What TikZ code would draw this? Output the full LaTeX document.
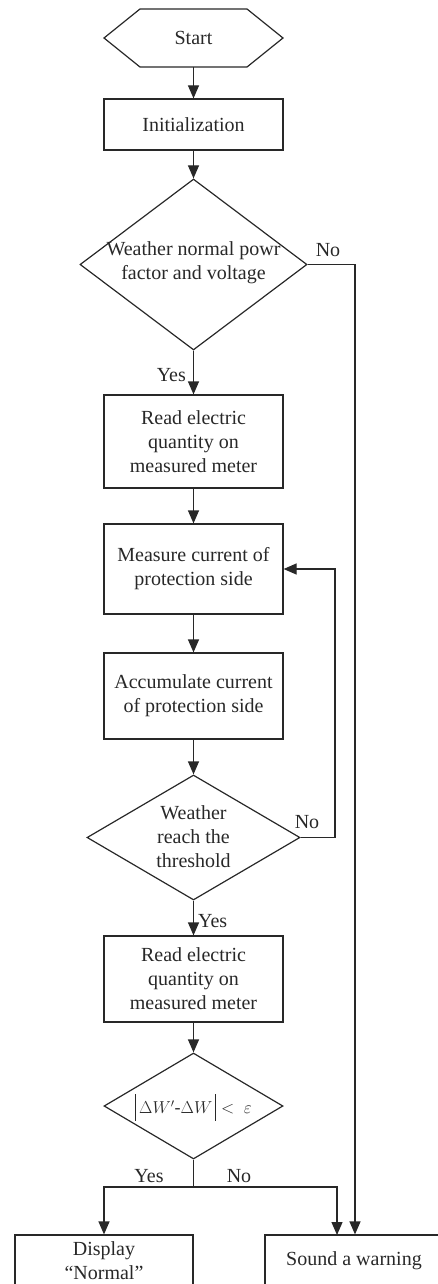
\documentclass[tikz,border=0pt]{standalone}
\usepackage{fontspec}
\setmainfont{Liberation Serif}
\usetikzlibrary{arrows.meta,shapes.geometric,calc}
\definecolor{ink}{RGB}{40,40,40}
\begin{document}
\begin{tikzpicture}[x=1pt,y=-1pt,
  every node/.style={text=ink},
  txt/.style={font=\fontsize{20}{24}\selectfont, align=center, inner sep=0pt},
  box/.style={txt, draw=ink, line width=1.2pt, minimum width=179pt},
  dia/.style={diamond, draw=ink, line width=1.2pt, inner sep=0pt},
  arr/.style={draw=ink, line width=1.2pt, -{Triangle[length=13pt,width=11pt]}},
  ln/.style={draw=ink, line width=1.2pt}]
\useasboundingbox (0,0) rectangle (438,1284);
\clip (0,0) rectangle (438,1284);
% nodes
\node[txt, minimum width=179pt, minimum height=58pt, outer sep=0pt] (start) at (193.5,38) {Start};
\draw[ln] (start.west) -- ($(start.north west)+(36,0)$) -- ($(start.north east)+(-36,0)$) -- (start.east) -- ($(start.south east)+(-36,0)$) -- ($(start.south west)+(36,0)$) -- cycle;
\node[box, minimum height=51pt] (init) at (193.5,124.5) {Initialization};
\node[dia, minimum width=227pt, minimum height=171pt] (d1) at (193.5,264.5) {};
\node[txt] (d1t) at (193.5,263) {Weather normal powr\\factor and voltage};
\node[box, minimum height=93pt] (read1) at (193.5,441.5) {Read electric\\quantity on\\measured meter};
\node[box, minimum height=90pt] (meas) at (193.5,569) {Measure current of\\protection side};
\node[box, minimum height=86pt] (accum) at (193.5,696) {Accumulate current\\of protection side};
\node[dia, minimum width=213pt, minimum height=125pt] (d2) at (193.5,837.5) {};
\node[txt] (d2t) at (193.5,837) {Weather\\reach the\\threshold};
\node[box, minimum height=86pt] (read2) at (193.5,979) {Read electric\\quantity on\\measured meter};
\node[dia, minimum width=179pt, minimum height=106pt] (d3) at (193.5,1106) {};
\node[inner sep=0pt, font=\fontsize{18}{22}\selectfont] (d3t) at (193.5,1107) {\rule[-7pt]{1.2pt}{27pt}$\,\Delta W'\mbox{-}\Delta W\,$\rule[-7pt]{1.2pt}{27pt}$\;<\;\varepsilon$};
\node[box, minimum width=178pt, minimum height=52pt] (disp) at (104,1261) {Display\\“Normal”};
\node[box, minimum width=178pt, minimum height=52pt] (sound) at (354,1261) {Sound a warning};
% coordinates
\coordinate (n1) at (355,264.5);
\coordinate (n2) at (335,837.5);
\coordinate (fb) at (335,569);
\coordinate (br) at (193.5,1187);
\coordinate (bl) at (104,1187);
\coordinate (bR) at (337,1187);
\coordinate (bRd) at (337,1235);
% connectors
\draw[arr] (start) -- (init);
\draw[arr] (init) -- (d1);
\draw[arr] (d1) -- node[txt, pos=0.55, left=7pt] (y1) {Yes} (read1);
\draw[arr] (read1) -- (meas);
\draw[arr] (meas) -- (accum);
\draw[arr] (accum) -- (d2);
\draw[arr] (d2) -- node[txt, pos=0.6, right=4pt] (y2) {Yes} (read2);
\draw[arr] (read2) -- (d3);
\draw[arr] (d1.east) -- (n1) -- (n1 |- sound.north);
\node[txt] (no1) at (328,250) {No};
\draw[arr] (d2.east) -- (n2) -- (fb) -- (meas.east);
\node[txt] (no2) at (307,822) {No};
\draw[ln] (d3.south) -- (br);
\draw[arr] (br) -- (bl) -- (disp.north);
\draw[arr] (br) -- (bR) -- (bRd);
\node[txt] (y3) at (149,1176) {Yes};
\node[txt] (no3) at (239,1176) {No};
\end{tikzpicture}
\end{document}
